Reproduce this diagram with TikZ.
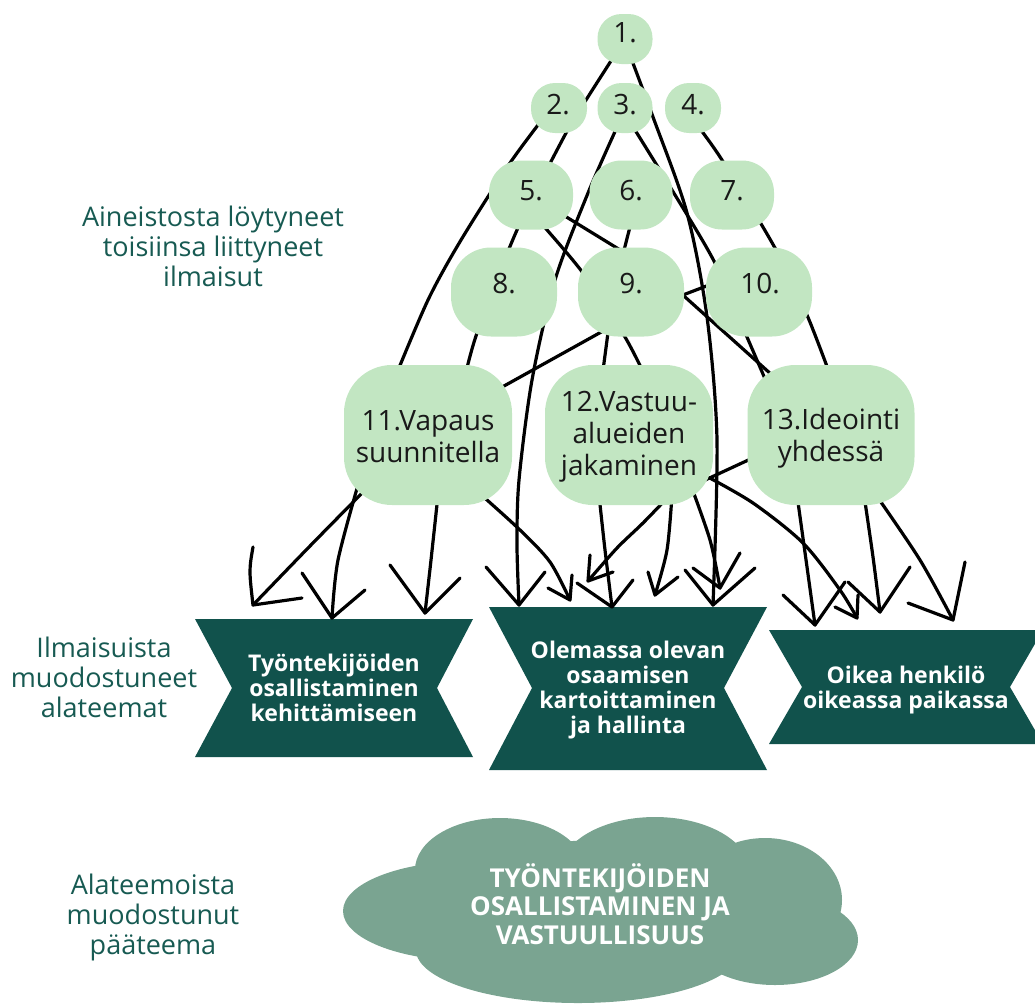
\documentclass[tikz,border=0pt]{standalone}
\usepackage{fontspec}
\setmainfont{Open Sans}
\definecolor{bubc}{HTML}{C2E6C2}
\definecolor{banc}{HTML}{11524C}
\definecolor{cloudc}{HTML}{7AA491}
\definecolor{sidec}{HTML}{175A52}
\begin{document}
\begin{tikzpicture}[x=1pt,y=-1pt]
\tikzset{
  bubble/.style={fill=bubc, inner sep=0pt, rounded corners=#1},
  numtxt/.style={font=\fontsize{28}{32}\selectfont, text=black!90, align=center, inner sep=0pt},
  side/.style={font=\fontsize{27}{30}\selectfont, text=sidec, align=center, inner sep=0pt},
  bantxt/.style={font=\bfseries\fontsize{23}{24.7}\selectfont, text=white, align=center, inner sep=0pt},
  cloudtxt/.style={font=\bfseries\fontsize{26}{28.5}\selectfont, text=white, align=center, inner sep=0pt},
  conn/.style={draw=black, line width=3.2pt, line cap=round, line join=round},
}
\useasboundingbox (0,0) rectangle (1035,1004);

% ---------- cloud ----------
\fill[cloudc] (470,911) ellipse [x radius=127, y radius=50];
\fill[cloudc] (500,870) ellipse [x radius=85, y radius=52];
\fill[cloudc] (655,872) ellipse [x radius=95, y radius=55];
\fill[cloudc] (765,900) ellipse [x radius=77, y radius=62];
\fill[cloudc] (775,940) ellipse [x radius=83, y radius=45];
\fill[cloudc] (578,950) ellipse [x radius=162, y radius=53];
\fill[cloudc] (600,910) ellipse [x radius=160, y radius=70];
\node[cloudtxt] (ct) at (600,904) {TYÖNTEKIJÖIDEN\\OSALLISTAMINEN JA\\VASTUULLISUUS};

% ---------- banners ----------
\fill[banc] (195,619) -- (473,619) -- (437,688) -- (473,757) -- (195,757) -- (232,688) -- cycle;
\fill[banc] (489,607) -- (767,607) -- (724,688) -- (767,770) -- (489,770) -- (532,688) -- cycle;
\fill[banc] (769,630) -- (1043,630) -- (1010,687) -- (1043,744) -- (769,744) -- (802,687) -- cycle;
\node[bantxt] (b1) at (334,688) {Työntekijöiden\\osallistaminen\\kehittämiseen};
\node[bantxt] (b2) at (628,690) {Olemassa olevan\\osaamisen\\kartoittaminen\\ja hallinta};
\node[bantxt] (b3) at (906,690) {Oikea henkilö\\oikeassa paikassa};

% ---------- side labels ----------
\node[side] (s1) at (213,246) {Aineistosta löytyneet\\toisiinsa liittyneet\\ilmaisut};
\node[side] (s2) at (104,677) {Ilmaisuista\\muodostuneet\\alateemat};
\node[side] (s3) at (153,917) {Alateemoista\\muodostunut\\pääteema};

% ---------- arrow tips ----------
\coordinate (ta1) at (253,605);
\coordinate (ta2) at (332,618);
\coordinate (ta3) at (425,613);
\coordinate (ta4) at (570,600);
\coordinate (tc3) at (519,605);
\coordinate (ta5) at (588,581);
\coordinate (ta6) at (612,607);
\coordinate (ta7) at (655,595);
\coordinate (ta8) at (720,588);
\coordinate (tcb) at (713,605);
\coordinate (ta9) at (857,618);
\coordinate (ta10) at (815,625);
\coordinate (ta11) at (880,612);
\coordinate (ta12) at (953,620);

% ---------- connectors (behind bubbles) ----------
\draw[conn] plot[smooth] coordinates {(618,50) (586,100) (566,133) (517,230) (477,333) (463,385)};
\draw[conn] plot[smooth] coordinates {(548,112) (510,163) (461,240) (428,300) (394,380)};
\draw[conn] plot[smooth] coordinates {(618,125) (588,193) (555,280) (532,380) (519,480) (517,545) (tc3)};
\draw[conn] plot[smooth] coordinates {(628,50) (653,117) (687,213) (707,317) (717,440) (tcb)};
\draw[conn] plot[smooth] coordinates {(630,122) (672,190) (715,263) (747,337) (772,395)};
\draw[conn] plot[smooth] coordinates {(697,125) (722,160) (775,248) (807,315) (832,380)};
\draw[conn] (555,210) -- (630,256);
\draw[conn] plot[smooth] coordinates {(540,222) (583,273) (625,337) (648,382)};
\draw[conn] (633,215) -- (621,262);
\draw[conn] (612,326) -- (495,391);
\draw[conn] (609,325) -- (602,378);
\draw[conn] (675,298) -- (717,282);
\draw[conn] (675,288) -- (782,384);
\draw[conn] (757,456) -- (703,481);
\draw[conn] plot[smooth] coordinates {(706,476) (753,503) (803,543) (840,590) (ta9)};
\draw[conn] plot[smooth] coordinates {(370,485) (310,546) (ta1)};
\draw[conn] plot[smooth] coordinates {(360,478) (338,560) (ta2)};
\draw[conn] plot[smooth] coordinates {(438,495) (431,560) (ta3)};
\draw[conn] plot[smooth] coordinates {(478,492) (520,530) (550,562) (ta4)};
\draw[conn] plot[smooth] coordinates {(670,495) (643,523) (617,548) (ta5)};
\draw[conn] plot[smooth] coordinates {(599,495) (605,550) (ta6)};
\draw[conn] plot[smooth] coordinates {(672,495) (667,550) (ta7)};
\draw[conn] plot[smooth] coordinates {(690,483) (710,540) (ta8)};
\draw[conn] plot[smooth] coordinates {(797,495) (807,567) (ta10)};
\draw[conn] plot[smooth] coordinates {(864,495) (873,557) (ta11)};
\draw[conn] plot[smooth] coordinates {(876,495) (920,560) (ta12)};

% arrow heads (hand drawn open V)
\draw[conn] (253,547) .. controls (249,570) .. (ta1) -- (302,598);
\draw[conn] (302,573) -- (ta2) -- (365,590);
\draw[conn] (390,565) -- (ta3) -- (460,578);
\draw[conn] (548,588) -- (ta4) -- (572,575);
\draw[conn] (486,567) -- (tc3) -- (545,572);
\draw[conn] (590,555) -- (ta5) -- (613,572);
\draw[conn] (577,583) -- (ta6) -- (633,580);
\draw[conn] (648,572) -- (ta7) -- (678,577);
\draw[conn] (693,568) -- (ta8) -- (740,553);
\draw[conn] (685,570) -- (tcb) -- (755,568);
\draw[conn] (835,607) -- (ta9) -- (858,595);
\draw[conn] (783,595) -- (ta10) -- (845,582);
\draw[conn] (848,582) -- (ta11) -- (910,567);
\draw[conn] (908,603) -- (ta12) -- (965,562);

% ---------- bubbles ----------
\node[bubble=24pt, minimum width=55pt, minimum height=50pt] (n1) at (625,39) {};
\node[bubble=24pt, minimum width=56pt, minimum height=50pt] (n2) at (559,108) {};
\node[bubble=24pt, minimum width=55pt, minimum height=50pt] (n3) at (625,108) {};
\node[bubble=24pt, minimum width=56pt, minimum height=50pt] (n4) at (693,108) {};
\node[bubble=32pt, minimum width=84pt, minimum height=69pt] (n5) at (531,195) {};
\node[bubble=32pt, minimum width=83pt, minimum height=69pt] (n6) at (631,195) {};
\node[bubble=32pt, minimum width=84pt, minimum height=69pt] (n7) at (732,195) {};
\node[bubble=40pt, minimum width=106pt, minimum height=89pt] (n8) at (504,292) {};
\node[bubble=40pt, minimum width=106pt, minimum height=89pt] (n9) at (631,292) {};
\node[bubble=40pt, minimum width=106pt, minimum height=89pt] (n10) at (759,292) {};
\node[bubble=48pt, minimum width=168pt, minimum height=140pt] (n11) at (428,435) {};
\node[bubble=48pt, minimum width=168pt, minimum height=140pt] (n12) at (629,435) {};
\node[bubble=48pt, minimum width=167pt, minimum height=140pt] (n13) at (831,435) {};

\node[numtxt] (t1) at (625,33) {1.};
\node[numtxt] (t2) at (558,105) {2.};
\node[numtxt] (t3) at (625,105) {3.};
\node[numtxt] (t4) at (693,105) {4.};
\node[numtxt] (t5) at (531,191) {5.};
\node[numtxt] (t6) at (631,191) {6.};
\node[numtxt] (t7) at (732,191) {7.};
\node[numtxt] (t8) at (504,284) {8.};
\node[numtxt] (t9) at (631,284) {9.};
\node[numtxt] (t10) at (760,284) {10.};
\node[numtxt] (t11) at (428,437) {11.Vapaus\\suunnitella};
\node[numtxt] (t12) at (629,437) {12.Vastuu-\\alueiden\\jakaminen};
\node[numtxt] (t13) at (831,438) {13.Ideointi\\yhdessä};
\end{tikzpicture}
\end{document}
